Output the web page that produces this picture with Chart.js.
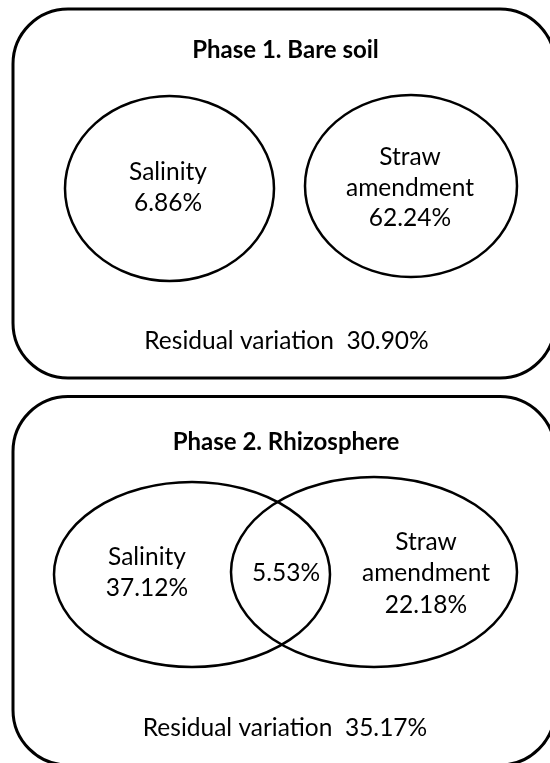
<!DOCTYPE html>
<html>
<head>
<meta charset="utf-8">
<script src="https://cdn.jsdelivr.net/npm/chart.js@4"></script>
<style>
  body { margin: 0; background: #fff; }
  canvas { display: block; }
</style>
</head>
<body>
<canvas id="venn" width="550" height="763"></canvas>
<script>
// variance partitioning, two phases
const phases = ['Phase 1. Bare soil', 'Phase 2. Rhizosphere'];
const salinity = ['6.86%', '37.12%'];
const straw = ['62.24%', '22.18%'];
const shared = [null, '5.53%'];
const residual = ['30.90%', '35.17%'];

// ellipse geometry in chart units (x 0..550, y 0..763)
const salCx = [169.5, 192];
const salCy = [188.5, 574.5];
const salRx = [104.5, 138];
const salRy = [92.5, 92.5];
const strCx = [411, 374];
const strCy = [186, 572];
const strRx = [106, 143];
const strRy = [91, 95];

// panel frames (run a bit past the right / bottom edge)
const boxX0 = [13, 13];
const boxX1 = [555, 555];
const boxY0 = [9, 396.5];
const boxY1 = [378, 765];

const FONT = 'Lato, "Open Sans", sans-serif';

function ellipse(ctx, xs, ys, cx, cy, rx, ry) {
  const px = xs.getPixelForValue(cx);
  const py = ys.getPixelForValue(cy);
  const prx = Math.abs(xs.getPixelForValue(cx + rx) - px);
  const pry = Math.abs(ys.getPixelForValue(cy + ry) - py);
  ctx.beginPath();
  ctx.ellipse(px, py, prx, pry, 0, 0, Math.PI * 2);
  ctx.stroke();
}

function text(ctx, xs, ys, str, x, y, font) {
  ctx.font = font;
  ctx.fillText(str, xs.getPixelForValue(x), ys.getPixelForValue(y));
}

const vennPlugin = {
  id: 'venn',
  afterDatasetsDraw(chart) {
    const ctx = chart.ctx;
    const xs = chart.scales.x;
    const ys = chart.scales.y;
    ctx.save();
    ctx.strokeStyle = '#000';
    ctx.fillStyle = '#000';
    ctx.textAlign = 'center';
    ctx.textBaseline = 'middle';

    for (let i = 0; i < phases.length; i++) {
      // frame
      const x0 = xs.getPixelForValue(boxX0[i]);
      const x1 = xs.getPixelForValue(boxX1[i]);
      const y0 = ys.getPixelForValue(boxY0[i]);
      const y1 = ys.getPixelForValue(boxY1[i]);
      ctx.lineWidth = 3;
      ctx.beginPath();
      ctx.roundRect(x0, y0, x1 - x0, y1 - y0, 55);
      ctx.stroke();

      ctx.lineWidth = 2.5;
      ellipse(ctx, xs, ys, salCx[i], salCy[i], salRx[i], salRy[i]);
      ellipse(ctx, xs, ys, strCx[i], strCy[i], strRx[i], strRy[i]);
    }

    const bold = 'bold 24px ' + FONT;
    const f = '24.5px ' + FONT;
    text(ctx, xs, ys, phases[0], 285.5, 50, bold);
    text(ctx, xs, ys, phases[1], 286, 442, bold);
    text(ctx, xs, ys, 'Residual variation  ' + residual[0], 286.5, 341, f);
    text(ctx, xs, ys, 'Residual variation  ' + residual[1], 285, 728, f);

    // phase 1 labels
    text(ctx, xs, ys, 'Salinity', 168, 172, f);
    text(ctx, xs, ys, salinity[0], 168, 203, f);
    text(ctx, xs, ys, 'Straw', 410, 157, f);
    text(ctx, xs, ys, 'amendment', 410, 188, f);
    text(ctx, xs, ys, straw[0], 410, 218, f);
    // phase 2 labels
    text(ctx, xs, ys, 'Salinity', 147, 557, f);
    text(ctx, xs, ys, salinity[1], 147, 588, f);
    text(ctx, xs, ys, shared[1], 286, 573, f);
    text(ctx, xs, ys, 'Straw', 426, 542, f);
    text(ctx, xs, ys, 'amendment', 426, 573, f);
    text(ctx, xs, ys, straw[1], 426, 605, f);
    ctx.restore();
  }
};

new Chart(document.getElementById('venn'), {
  type: 'scatter',
  data: {
    datasets: [{
      data: [
        { x: salCx[0], y: salCy[0] }, { x: strCx[0], y: strCy[0] },
        { x: salCx[1], y: salCy[1] }, { x: strCx[1], y: strCy[1] }
      ],
      pointRadius: 0
    }]
  },
  options: {
    responsive: false,
    animation: false,
    devicePixelRatio: 1,
    layout: { padding: 0 },
    plugins: { legend: { display: false }, tooltip: { enabled: false } },
    scales: {
      x: { type: 'linear', min: 0, max: 550, display: false },
      y: { type: 'linear', min: 0, max: 763, reverse: true, display: false }
    }
  },
  plugins: [vennPlugin]
});
</script>
</body>
</html>
